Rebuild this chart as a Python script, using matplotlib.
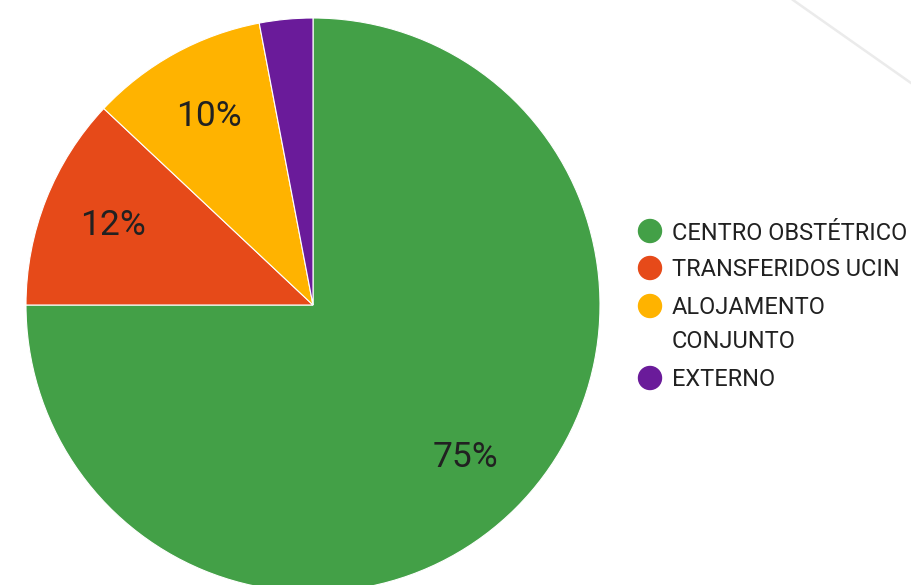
import matplotlib
matplotlib.use("Agg")
import matplotlib.pyplot as plt
from matplotlib.lines import Line2D
from matplotlib.patches import Circle

plt.rcParams['font.family'] = ['Roboto', 'DejaVu Sans']

categories = ["CENTRO OBSTÉTRICO", "TRANSFERIDOS UCIN", "ALOJAMENTO\nCONJUNTO", "EXTERNO"]
values = [75, 12, 10, 3]
colors = ["#43A047", "#E64A19", "#FFB300", "#6A1B9A"]

W, H = 911, 585
fig = plt.figure(figsize=(W / 100, H / 100), dpi=100)
ax = fig.add_axes([0, 0, 1, 1])

def fmt(p):
    return f"{p:.0f}%" if p >= 5 else ""

wedges, texts, autotexts = ax.pie(
    values, colors=colors, startangle=90, counterclock=False,
    center=(313, H - 305), radius=287, autopct=fmt, pctdistance=0.75,
    wedgeprops=dict(edgecolor="white", linewidth=0.8),
    textprops=dict(fontsize=25.5, color="#212121"))
ax.set_xlim(0, W)
ax.set_ylim(0, H)
ax.set_aspect("equal")
ax.axis("off")

# legend
rows_y = [231, 268, 306, 378]
for (lab, col, y) in zip(categories, colors, rows_y):
    ax.add_patch(Circle((650, H - y), 11.5, color=col, clip_on=False))
    for i, line in enumerate(lab.split("\n")):
        ax.text(672, H - (y + 8.5 + 33 * i), line, fontsize=16.9,
                color="#212121", va="baseline", ha="left")

# faint diagonal line at top right
fig.add_artist(Line2D([793 / W, 911 / W], [1, 1 - 83 / H], color="#ebebeb",
                      linewidth=1.8, transform=fig.transFigure))

fig.savefig("out.png", dpi=100)
